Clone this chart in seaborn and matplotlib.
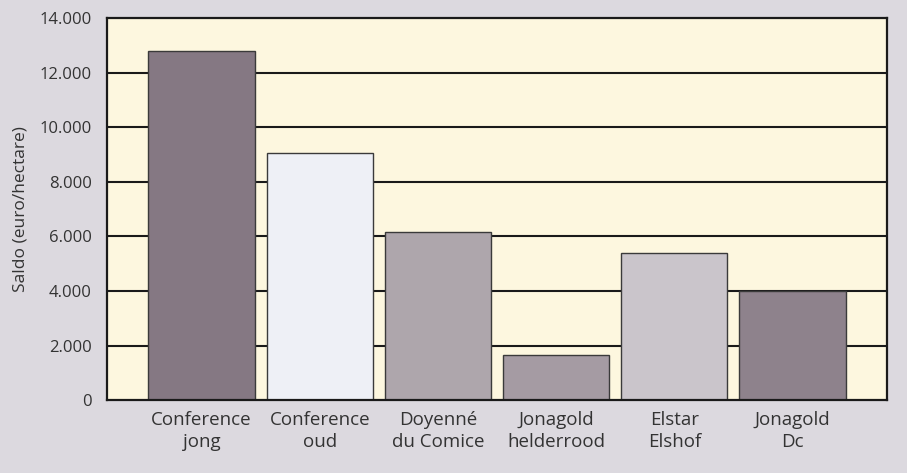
import matplotlib
matplotlib.use("Agg")
import matplotlib.pyplot as plt
import seaborn as sns
import pandas as pd

categories = ["Conference\njong", "Conference\noud", "Doyenné\ndu Comice",
              "Jonagold\nhelderrood", "Elstar\nElshof", "Jonagold\nDc"]
values = [12800, 9050, 6150, 1650, 5400, 4000]
bar_colors = ["#857883", "#eef0f6", "#aea6ac", "#a59ba3", "#cac5cb", "#8e828c"]
yticks = [0, 2000, 4000, 6000, 8000, 10000, 12000, 14000]
ytick_labels = ["0", "2.000", "4.000", "6.000", "8.000", "10.000", "12.000", "14.000"]
ylabel = "Saldo (euro/hectare)"

sns.set_theme(style="white")
plt.rcParams["font.family"] = ["Open Sans", "DejaVu Sans"]

df = pd.DataFrame({"cat": categories, "val": values})

fig = plt.figure(figsize=(9.07, 4.73), dpi=100)
fig.patch.set_facecolor("#dcd9df")
ax = fig.add_axes([0.118, 0.154, 0.860, 0.808])
ax.set_facecolor("#fdf7df")

for y in yticks[1:-1]:
    ax.axhline(y, color="#1a1a1a", lw=1.5, zorder=0)

sns.barplot(data=df, x="cat", y="val", hue="cat", palette=bar_colors,
            legend=False, width=0.9, edgecolor="#3a3a3a", linewidth=1.0,
            ax=ax, zorder=2, saturation=1)

ax.set_xlim(-0.8, 5.8)
ax.set_ylim(0, 14000)
ax.set_yticks(yticks)
ax.set_yticklabels(ytick_labels)
ax.set_xlabel("")
ax.set_ylabel(ylabel, fontsize=12.5, color="#333333", labelpad=8)
ax.tick_params(axis="y", length=0, pad=11, labelsize=12, labelcolor="#333333")
ax.tick_params(axis="x", length=0, pad=8, labelsize=13.5, labelcolor="#333333")
for lab in ax.get_xticklabels():
    lab.set_linespacing(1.25)
for s in ax.spines.values():
    s.set_color("#1a1a1a")
    s.set_linewidth(1.6)
    s.set_visible(True)

fig.savefig("out.png", dpi=100, facecolor=fig.get_facecolor())
